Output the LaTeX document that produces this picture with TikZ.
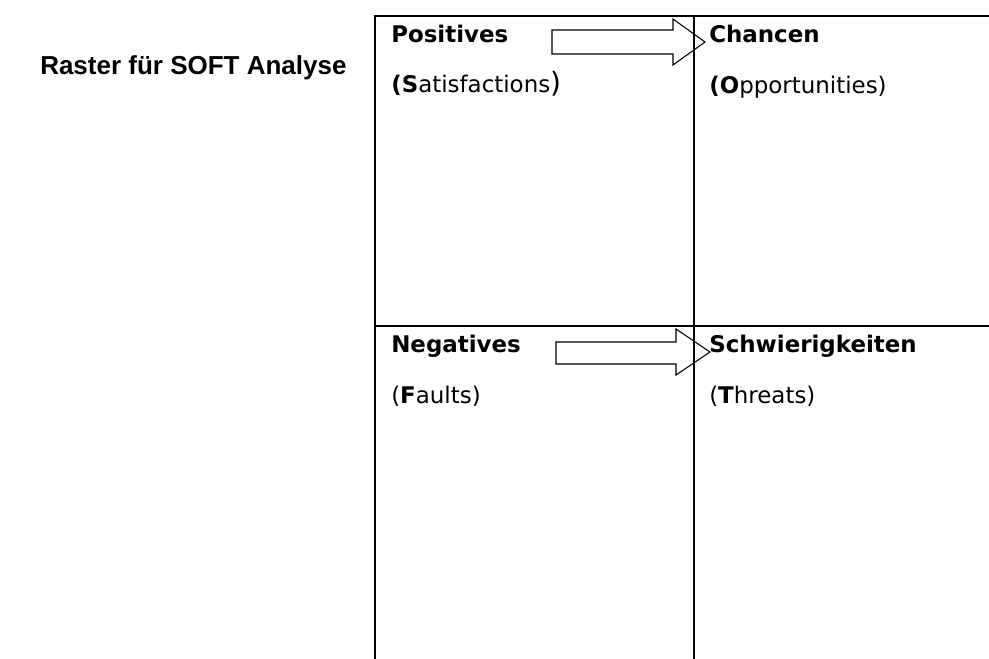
\documentclass[tikz,border=0pt]{standalone}
\usepackage{fontspec}
\setmainfont{DejaVu Sans}
\newfontfamily\titlefont{Liberation Sans}
\begin{document}
\begin{tikzpicture}[x=0.75pt,y=-0.75pt,
  gridline/.style={line width=1.6pt,black},
  blockarrow/.style={line width=0.8pt,black,line join=miter},
  cell/.style={anchor=base west,inner sep=0pt,font=\fontsize{17.2}{20}\selectfont},
  titletext/.style={anchor=base west,inner sep=0pt,font=\titlefont\bfseries\fontsize{19.5}{23}\selectfont}]
\useasboundingbox (0,0) rectangle (989,659);
% grid
\coordinate (tl) at (375,16);
\coordinate (tr) at (989,16);
\coordinate (ml) at (375,326);
\coordinate (mr) at (989,326);
\coordinate (bl) at (375,659);
\coordinate (tm) at (694,16);
\coordinate (bm) at (694,659);
\draw[gridline] (tr) -- (tl) -- (bl);
\draw[gridline] (ml) -- (mr);
\draw[gridline] (tm) -- (bm);
% title
\node[titletext] (title) at (40,75) {Raster für SOFT Analyse};
% cells
\node[cell] (pos) at (391,43) {\bfseries Positives};
\node[cell] (sat) at (391,93) {\textbf{(S}atisfactions{\fontsize{21}{24}\selectfont)}};
\node[cell] (cha) at (709,43) {\bfseries Chancen};
\node[cell] (opp) at (709,94) {\textbf{(O}pportunities)};
\node[cell] (neg) at (391,353) {\bfseries Negatives};
\node[cell] (fau) at (391,403) {(\textbf{F}aults)};
\node[cell] (sch) at (709,353) {\bfseries Schwierigkeiten};
\node[cell] (thr) at (709,403) {(\textbf{T}hreats)};
% block arrows
\draw[blockarrow] (552,30) -- (673,30) -- (673,19) -- (705,42) -- (673,65) -- (673,54) -- (552,54) -- cycle;
\draw[blockarrow] (556,342) -- (676,342) -- (676,329) -- (710,352) -- (676,375) -- (676,364) -- (556,364) -- cycle;
\end{tikzpicture}
\end{document}
